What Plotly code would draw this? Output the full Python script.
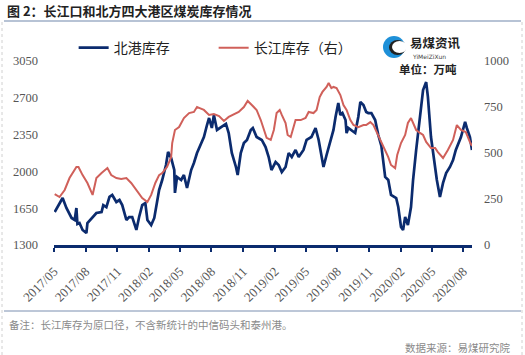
import plotly.graph_objects as go

# 北港库存 (left axis, 万吨)
north_dates = [
    "2017-05-03","2017-05-11","2017-05-26","2017-06-06","2017-06-21","2017-06-30","2017-07-05","2017-07-08",
    "2017-07-14","2017-07-23","2017-08-03","2017-08-06","2017-08-18","2017-09-01","2017-09-16","2017-09-21",
    "2017-09-30","2017-10-09","2017-10-17","2017-10-29","2017-11-07","2017-11-15","2017-11-27","2017-12-05",
    "2017-12-14","2017-12-26","2018-01-03","2018-01-12","2018-01-21","2018-01-27","2018-02-07","2018-02-16",
    "2018-02-24","2018-03-02","2018-03-11","2018-03-22","2018-03-28","2018-04-06","2018-04-15","2018-04-17",
    "2018-04-23","2018-05-05","2018-05-13","2018-05-22","2018-06-03","2018-06-11","2018-06-20","2018-07-02",
    "2018-07-10","2018-07-19","2018-07-25","2018-08-02","2018-08-08","2018-08-17","2018-08-31","2018-09-12",
    "2018-09-20","2018-09-29","2018-10-11","2018-10-16","2018-10-25","2018-11-03","2018-11-12","2018-11-23",
    "2018-11-29","2018-12-10","2018-12-25","2019-01-05","2019-01-14","2019-01-22","2019-02-03","2019-02-12",
    "2019-02-21","2019-03-04","2019-03-13","2019-03-22","2019-04-02","2019-04-11","2019-04-25","2019-05-04",
    "2019-05-18","2019-05-30","2019-06-08","2019-06-16","2019-06-22","2019-07-01","2019-07-12","2019-07-21",
    "2019-07-27","2019-08-04","2019-08-10","2019-08-16","2019-08-25","2019-08-28","2019-09-02","2019-09-11",
    "2019-09-22","2019-10-01","2019-10-07","2019-10-16","2019-10-24","2019-10-30","2019-11-08","2019-11-19",
    "2019-11-28","2019-12-07","2019-12-12","2019-12-18","2019-12-27","2020-01-04","2020-01-19","2020-01-25",
    "2020-02-02","2020-02-08","2020-02-14","2020-02-22","2020-03-02","2020-03-08","2020-03-17","2020-03-28",
    "2020-04-06","2020-04-15","2020-04-20","2020-04-29","2020-05-08","2020-05-16","2020-05-25","2020-06-03",
    "2020-06-12","2020-06-23","2020-07-02","2020-07-10","2020-07-25","2020-08-06","2020-08-11","2020-08-20",
    "2020-08-26",
]
north_values = [
    1614,1661,1747,1652,1557,1538,1652,1500,
    1509,1443,1414,1509,1557,1604,1614,1680,
    1661,1757,1776,1709,1728,1680,1538,1566,
    1566,1443,1566,1680,1699,1538,1490,1557,
    1709,1823,1918,2061,2185,2127,2013,1795,
    1947,1918,1966,1842,2013,2080,2175,2270,
    2327,2441,2508,2413,2536,2394,2422,2451,
    2365,2175,2042,1966,2175,2270,2299,2394,
    2413,2327,2299,2232,2137,2013,2089,2061,
    1994,2042,2175,2137,2204,2137,2204,2299,
    2327,2413,2299,2137,2042,2156,2299,2394,
    2517,2651,2536,2555,2489,2365,2413,2394,
    2365,2517,2660,2632,2565,2555,2555,2489,
    2346,2242,2080,1947,1918,1776,1747,1661,
    1471,1443,1566,1490,1661,1918,2204,2517,
    2774,2850,2708,2327,2080,1918,1757,1890,
    1985,2042,2108,2204,2327,2470,2413,2327,
    2204,
]

# 长江库存 (right axis, 万吨)
yangtze_dates = [
    "2017-05-03","2017-05-17","2017-06-01","2017-06-15","2017-07-05","2017-07-11","2017-07-23","2017-08-06",
    "2017-08-21","2017-09-01","2017-09-16","2017-10-03","2017-10-14","2017-10-29","2017-11-12","2017-11-27",
    "2017-12-11","2017-12-26","2018-01-12","2018-01-27","2018-02-07","2018-02-19","2018-03-02","2018-03-11",
    "2018-03-25","2018-04-06","2018-04-09","2018-04-17","2018-04-29","2018-05-13","2018-05-28","2018-06-11",
    "2018-06-20","2018-06-26","2018-07-10","2018-07-25","2018-08-08","2018-08-23","2018-09-06","2018-09-20",
    "2018-10-05","2018-10-19","2018-11-03","2018-11-14","2018-11-26","2018-12-10","2018-12-22","2018-12-31",
    "2019-01-08","2019-01-20","2019-01-29","2019-02-06","2019-02-15","2019-02-21","2019-03-04","2019-03-10",
    "2019-03-19","2019-04-02","2019-04-17","2019-05-01","2019-05-10","2019-05-24","2019-06-02","2019-06-11",
    "2019-06-19","2019-07-01","2019-07-07","2019-07-15","2019-07-21","2019-07-30","2019-08-10","2019-08-19",
    "2019-08-28","2019-09-08","2019-09-17","2019-10-01","2019-10-16","2019-10-24","2019-11-05","2019-11-14",
    "2019-11-28","2019-12-12","2019-12-27","2020-01-04","2020-01-16","2020-01-22","2020-02-02","2020-02-14",
    "2020-02-22","2020-03-02","2020-03-11","2020-03-17","2020-03-28","2020-04-06","2020-04-15","2020-04-29",
    "2020-05-11","2020-05-19","2020-06-03","2020-06-17","2020-07-02","2020-07-13","2020-07-25","2020-08-08",
    "2020-08-20","2020-08-26",
]
yangtze_values = [
    277,261,299,364,424,424,380,337,
    272,364,391,418,380,364,359,364,
    337,299,255,234,272,337,380,391,
    424,478,554,625,641,690,717,723,
    750,745,734,707,712,701,674,696,
    712,723,750,783,761,734,679,625,
    582,571,625,717,734,707,663,598,
    587,679,679,690,723,717,734,804,
    832,859,880,853,859,853,815,761,
    734,679,652,641,652,652,668,652,
    598,544,478,435,418,489,554,598,
    663,690,652,625,609,598,560,527,
    527,505,473,516,571,652,625,614,
    560,538,
]

left_ticks = [1300, 1650, 2000, 2350, 2700, 3050]
right_ticks = [0, 250, 500, 750, 1000]

title_text = "图 2：长江口和北方四大港区煤炭库存情况"
north_name = "北港库存"
yangtze_name = "长江库存（右）"
note_text = "备注：长江库存为原口径，不含新统计的中信码头和泰州港。"
source_text = "数据来源：易煤研究院"
unit_text = "单位：万吨"
logo_cn = "易煤资讯"
logo_en = "YiMeiZiXun"

NAVY = "#0b2b6e"
RED = "#d0605a"
CJK = "Noto Sans CJK SC"
SERIF = "Liberation Serif"

fig = go.Figure()
fig.add_trace(go.Scatter(x=north_dates, y=north_values, mode="lines", name=north_name,
                         line=dict(color=NAVY, width=2.7), yaxis="y"))
fig.add_trace(go.Scatter(x=yangtze_dates, y=yangtze_values, mode="lines", name=yangtze_name,
                         line=dict(color=RED, width=2), yaxis="y2"))

fig.update_layout(
    width=525, height=355,
    margin=dict(l=54, r=53, t=61, b=110),
    paper_bgcolor="white", plot_bgcolor="white",
    showlegend=True,
    legend=dict(orientation="h", x=0.047, y=1.157, xanchor="left", yanchor="top",
                font=dict(family=CJK, size=14, color="#222222"),
                entrywidth=95, bgcolor="rgba(0,0,0,0)", itemwidth=30),
    xaxis=dict(type="date", range=["2017-05-01", "2020-08-26"],
               tick0="2017-05-01", dtick="M3", tickformat="%Y/%m",
               tickangle=-45, ticks="outside", ticklen=4, tickwidth=1.5, tickcolor=NAVY,
               ticklabelstandoff=7,
               showline=True, linecolor=NAVY, linewidth=2.5, showgrid=False, zeroline=False,
               tickfont=dict(family=SERIF, size=13, color="#555555")),
    yaxis=dict(range=[1300, 3050], tickvals=left_ticks, showgrid=False, zeroline=False,
               showline=False, ticks="", ticklabelstandoff=15,
               tickfont=dict(family=SERIF, size=12.5, color="#555555")),
    yaxis2=dict(range=[0, 1000], tickvals=right_ticks, overlaying="y", side="right",
                showgrid=False, zeroline=False, showline=False, ticks="", ticklabelstandoff=11,
                tickfont=dict(family=SERIF, size=12.5, color="#555555")),
)

def px_x(p):
    return (p - 54) / 418.0

def px_y(p):
    return (245 - p) / 184.0

# frame lines
fig.add_shape(type="line", xref="paper", yref="paper", x0=px_x(4), x1=px_x(521), y0=px_y(21), y1=px_y(21),
              line=dict(color="#7088ac", width=1.2))
fig.add_shape(type="line", xref="paper", yref="paper", x0=px_x(4), x1=px_x(521), y0=px_y(311), y1=px_y(311),
              line=dict(color="#7a8fb0", width=1))
fig.add_shape(type="line", xref="paper", yref="paper", x0=px_x(2), x1=px_x(2), y0=px_y(22), y1=px_y(355),
              line=dict(color="#d0d0d0", width=1, dash="dot"))
fig.add_shape(type="line", xref="paper", yref="paper", x0=px_x(522), x1=px_x(522), y0=px_y(22), y1=px_y(355),
              line=dict(color="#d0d0d0", width=1, dash="dot"))
# logo mark
fig.add_shape(type="circle", xref="paper", yref="paper", x0=px_x(383), x1=px_x(405), y0=px_y(58), y1=px_y(36),
              fillcolor="#1e90d8", line=dict(width=0))
fig.add_shape(type="circle", xref="paper", yref="paper", x0=px_x(389), x1=px_x(406), y0=px_y(55), y1=px_y(40),
              fillcolor="#222222", line=dict(width=0))
fig.add_shape(type="circle", xref="paper", yref="paper", x0=px_x(392), x1=px_x(407), y0=px_y(53), y1=px_y(41),
              fillcolor="white", line=dict(width=0))

fig.add_annotation(text="<b>" + title_text + "</b>", xref="paper", yref="paper",
                   x=px_x(5), y=px_y(11), xanchor="left", yanchor="middle", showarrow=False,
                   font=dict(family=CJK, size=13, color="#222222"))
fig.add_annotation(text="<b>" + logo_cn + "</b>", xref="paper", yref="paper", x=px_x(408), y=px_y(42),
                   xanchor="left", yanchor="middle", showarrow=False,
                   font=dict(family=CJK, size=12.5, color="#222222"))
fig.add_annotation(text=logo_en, xref="paper", yref="paper", x=px_x(410), y=px_y(56.5),
                   xanchor="left", yanchor="middle", showarrow=False,
                   font=dict(family="DejaVu Sans", size=6, color="#444444"))
fig.add_annotation(text="<b>" + unit_text + "</b>", xref="paper", yref="paper", x=px_x(428), y=px_y(69),
                   xanchor="center", yanchor="middle", showarrow=False,
                   font=dict(family=CJK, size=11.5, color="#222222"))
fig.add_annotation(text=note_text, xref="paper", yref="paper", x=px_x(7), y=px_y(324),
                   xanchor="left", yanchor="middle", showarrow=False,
                   font=dict(family=CJK, size=10.5, color="#8a8a8a"))
fig.add_annotation(text=source_text, xref="paper", yref="paper", x=px_x(513), y=px_y(347),
                   xanchor="right", yanchor="middle", showarrow=False,
                   font=dict(family=CJK, size=10.5, color="#8a8a8a"))

fig.write_html("out.html", config={"displayModeBar": False},
               post_script="document.body.style.margin='0';")
